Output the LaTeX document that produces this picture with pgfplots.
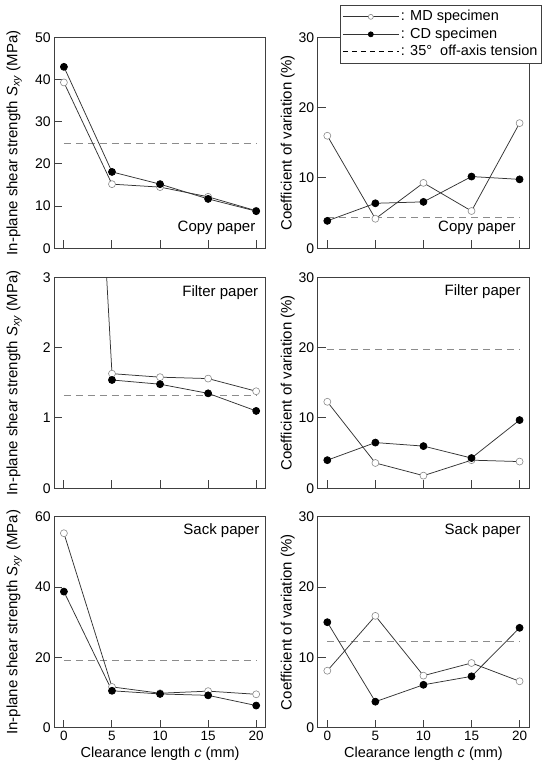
\documentclass[border=0pt]{standalone}
\usepackage{pgfplots}
\pgfplotsset{compat=1.18}
\usepackage{fontspec}
\setmainfont{Liberation Sans}
\newcommand\fs{\fontsize{15}{18}\selectfont}
\newcommand\fx{\fontsize{14.5}{17}\selectfont}
\newcommand\ft{\fontsize{14}{16}\selectfont}
\newcommand\ftx{\fontsize{13.5}{16}\selectfont}
\newcommand\fl{\fontsize{14.5}{17}\selectfont}
\definecolor{axgray}{HTML}{404040}
\definecolor{lngray}{HTML}{333333}
\definecolor{mkgray}{HTML}{8A8A8A}
\definecolor{dgray}{HTML}{8C8C8C}
\pgfplotsset{
  panel/.style={
    scale only axis, width=211.5pt, height=211pt,
    xmin=-1, xmax=21, ymin=0,
    xtick={0,5,10,15,20},
    tick align=inside, xtick pos=left, ytick pos=left,
    major tick length=8pt,
    axis line style={axgray, line width=1pt},
    every tick/.style={axgray, line width=1pt},
    tick label style={font=\ft},
    xticklabel style={font=\ftx, inner ysep=0pt, yshift=-3.3pt},
    label style={font=\fs},
    /pgf/number format/assume math mode=true,
    anchor=south west,
    xlabel style={at={(axis description cs:0.5,-0.1412)}, anchor=base, inner ysep=0pt, font=\fx},
  },
  lpanel/.style={panel, ylabel={In-plane shear strength \textit{S}\textsubscript{\textit{xy}} (MPa)},
    ylabel style={at={(axis description cs:-0.19,0.5)}, anchor=center}},
  rpanel/.style={panel, ymax=30, ytick={0,10,20,30}, ylabel={Coefficient of variation (\%)},
    ylabel style={at={(axis description cs:-0.142,0.5)}, anchor=center}},
  md/.style={lngray, line width=0.75pt, mark=*, mark size=3.5pt, mark options={draw=mkgray, fill=white, line width=0.6pt}},
  cd/.style={lngray, line width=0.75pt, mark=*, mark size=3.5pt, mark options={draw=black, fill=black}},
  refl/.style={dgray, line width=0.9pt, dash pattern=on 7pt off 5pt},
}
\begin{document}
\begin{tikzpicture}
\useasboundingbox (0,0) rectangle (542pt,761pt);
% ---------- Row 1 left: Copy paper strength
\begin{axis}[lpanel, at={(54.3pt,512.7pt)}, ymax=50, ytick={0,10,20,30,40,50}, xticklabels={}]
\addplot[refl] coordinates {(0,24.8) (20,24.8)};
\addplot[md] coordinates {(0,39.3) (5,15.2) (10,14.5) (15,12.2) (20,8.9)};
\addplot[cd] coordinates {(0,43.0) (5,18.1) (10,15.2) (15,11.7) (20,8.8)};
\node[anchor=east, font=\fs] at (rel axis cs:0.967,0.095) {Copy paper};
\end{axis}
% ---------- Row 1 right: Copy paper CV
\begin{axis}[rpanel, at={(317.7pt,512.7pt)}, xticklabels={},
  legend style={at={(axis description cs:0.105,1.155)}, anchor=north west, draw=axgray, line width=1pt,
    fill=white, font=\fl, cells={anchor=west}, nodes={inner sep=1.6pt, text height=11pt, text depth=3.3pt},
    inner xsep=2pt, inner ysep=3pt, row sep=0pt},
  legend image code/.code={\draw[mark repeat=2,mark phase=2,#1] plot coordinates {(0pt,0pt) (28pt,0pt) (56pt,0pt)};}]
\addplot[refl, forget plot] coordinates {(0,4.4) (20,4.4)};
\addplot[md, forget plot] coordinates {(0,16.0) (5,4.2) (10,9.3) (15,5.3) (20,17.8)};
\addplot[cd, forget plot] coordinates {(0,3.9) (5,6.4) (10,6.6) (15,10.2) (20,9.8)};
\addlegendimage{md, mark size=2.5pt}
\addlegendentry{: MD specimen}
\addlegendimage{cd, mark size=2.5pt}
\addlegendentry{: CD specimen}
\addlegendimage{black, line width=0.8pt, dash pattern=on 5pt off 4pt}
\addlegendentry{: 35°\ \ off-axis tension}
\node[anchor=east, font=\fs] at (rel axis cs:0.953,0.095) {Copy paper};
\end{axis}
% ---------- Row 2 left: Filter paper strength
\begin{axis}[lpanel, at={(54.3pt,272.7pt)}, ymax=3, ytick={0,1,2,3}, xticklabels={}]
\addplot[refl] coordinates {(0,1.32) (20,1.32)};
\addplot[lngray, line width=0.75pt] coordinates {(0,14.0) (5,1.63)};
\addplot[md] coordinates {(5,1.63) (10,1.58) (15,1.56) (20,1.38)};
\addplot[cd] coordinates {(5,1.54) (10,1.48) (15,1.35) (20,1.10)};
\node[anchor=east, font=\fs] at (rel axis cs:0.981,0.929) {Filter paper};
\end{axis}
% ---------- Row 2 right: Filter paper CV
\begin{axis}[rpanel, at={(317.7pt,272.7pt)}, xticklabels={}]
\addplot[refl] coordinates {(0,19.8) (20,19.8)};
\addplot[md] coordinates {(0,12.3) (5,3.6) (10,1.8) (15,4.0) (20,3.8)};
\addplot[cd] coordinates {(0,4.0) (5,6.5) (10,6.0) (15,4.3) (20,9.7)};
\node[anchor=east, font=\fs] at (rel axis cs:0.976,0.93) {Filter paper};
\end{axis}
% ---------- Row 3 left: Sack paper strength
\begin{axis}[lpanel, at={(54.3pt,33.3pt)}, ymax=60, ytick={0,20,40,60}, xlabel={Clearance length \textit{c} (mm)}]
\addplot[refl] coordinates {(0,19.2) (20,19.2)};
\addplot[md] coordinates {(0,55.3) (5,11.6) (10,9.8) (15,10.4) (20,9.5)};
\addplot[cd] coordinates {(0,38.7) (5,10.5) (10,9.6) (15,9.2) (20,6.3)};
\node[anchor=east, font=\fs] at (rel axis cs:0.986,0.934) {Sack paper};
\end{axis}
% ---------- Row 3 right: Sack paper CV
\begin{axis}[rpanel, at={(317.7pt,33.3pt)}, xlabel={Clearance length \textit{c} (mm)}]
\addplot[refl] coordinates {(0,12.2) (20,12.2)};
\addplot[md] coordinates {(0,8.1) (5,15.9) (10,7.4) (15,9.2) (20,6.6)};
\addplot[cd] coordinates {(0,15.0) (5,3.7) (10,6.1) (15,7.3) (20,14.2)};
\node[anchor=east, font=\fs] at (rel axis cs:0.976,0.934) {Sack paper};
\end{axis}
\end{tikzpicture}
\end{document}
